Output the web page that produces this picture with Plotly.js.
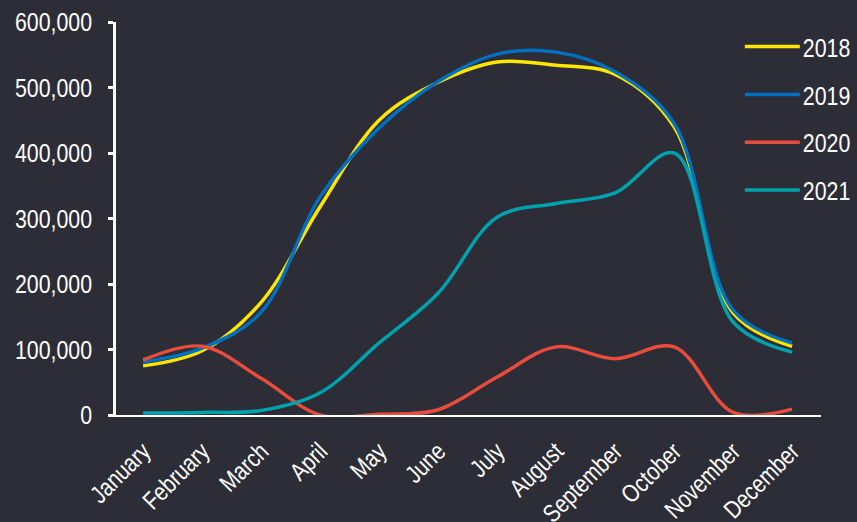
<!DOCTYPE html>
<html>
<head>
<meta charset="utf-8">
<script src="https://cdn.plot.ly/plotly-3.0.1.min.js"></script>
<style>
html,body{margin:0;padding:0;background:#2d2d37;}
</style>
</head>
<body>
<div id="chart" style="width:857px;height:522px;"></div>
<script>
const months = ["January","February","March","April","May","June","July","August","September","October","November","December"];
const v2018 = [75000, 98000, 172000, 318000, 450000, 508000, 539000, 534000, 520000, 440000, 156000, 105000];
const v2019 = [81000, 102000, 157000, 333000, 438000, 509000, 551000, 554000, 524000, 445000, 160000, 110000];
const v2020 = [84000, 105000, 56000, 0, 1000, 8000, 58000, 104000, 86000, 104000, 4000, 9000];
const v2021 = [3000, 4000, 7000, 34000, 110000, 186000, 302000, 323000, 339000, 400000, 142000, 96000];
const seriesNames = ["2018","2019","2020","2021"];
const colors = ["#FFE600","#0070C0","#E84C3D","#00A3AD"];
const allValues = [v2018, v2019, v2020, v2021];

const font = "'Liberation Sans', Arial, sans-serif";
const traces = allValues.map((vals, i) => ({
  x: months, y: vals, name: seriesNames[i], type: "scatter", mode: "lines",
  line: {color: colors[i], width: 3.5, shape: "spline", smoothing: 1},
  legendgroup: "g" + i
}));

const layout = {
  width: 857, height: 522,
  paper_bgcolor: "#2d2d37", plot_bgcolor: "#2d2d37",
  margin: {l: 116, r: 36, t: 22, b: 107, autoexpand: false},
  font: {family: font, color: "#ffffff", size: 24},
  showlegend: true,
  legend: {x: 0.882, y: 0.997, xanchor: "left", yanchor: "top", bgcolor: "rgba(0,0,0,0)",
           itemwidth: 55,
           font: {family: font, size: 26, color: "#ffffff"}, tracegroupgap: 11, traceorder: "grouped"},
  xaxis: {type: "category", range: [-0.46, 11.49], showline: true, linecolor: "#ffffff", linewidth: 1.5,
          showgrid: false, zeroline: false, ticks: "", tickangle: -45, ticklabelstandoff: 10,
          tickfont: {family: font, size: 25, color: "#ffffff"}},
  yaxis: {range: [0, 600000], dtick: 100000, tickformat: ",d", showline: true, linecolor: "#ffffff", linewidth: 2.5,
          ticks: "outside", ticklen: 5, tickwidth: 2.5, tickcolor: "#ffffff", ticklabelstandoff: 11,
          showgrid: false, zeroline: false,
          tickfont: {family: font, size: 26, color: "#ffffff"}}
};

function condense(gd) {
  gd.querySelectorAll('.xtick text, .ytick text, .legendtext').forEach(t => {
    const len = t.getComputedTextLength();
    t.setAttribute('textLength', (len * 0.82).toFixed(2));
    t.setAttribute('lengthAdjust', 'spacingAndGlyphs');
  });
  gd.querySelectorAll('.traces').forEach(g => {
    const txt = g.querySelector('.legendtext');
    const tx = txt ? parseFloat(txt.getAttribute('x')) || 65 : 65;
    const start = Math.max(0, tx - 58);
    g.querySelectorAll('.legendlines path').forEach(p => p.setAttribute('d', 'M' + start + ',0h55'));
  });
}

Plotly.newPlot("chart", traces, layout, {displayModeBar: false}).then(gd => condense(gd));
</script>
</body>
</html>
